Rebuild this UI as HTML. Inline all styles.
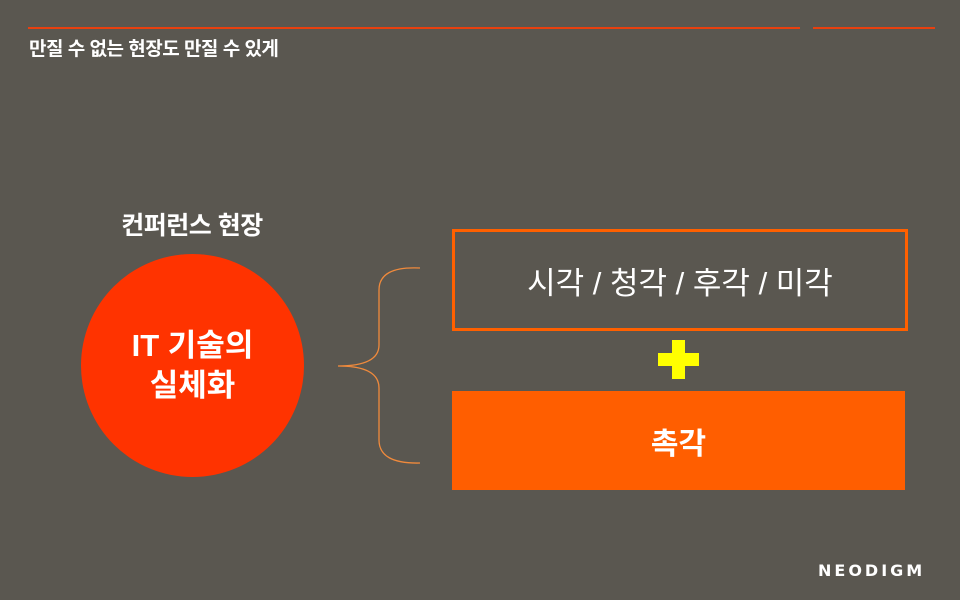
<!DOCTYPE html>
<html><head><meta charset="utf-8"><style>
body{margin:0;width:960px;height:600px;background:#5a5750;position:relative;overflow:hidden;font-family:"Liberation Sans","Noto Sans CJK KR",sans-serif;color:#fff}
.a{position:absolute}
</style></head><body>
<div class="a" style="left:28px;top:27px;width:772px;height:2px;background:#e8400f"></div>
<div class="a" style="left:813px;top:27px;width:122px;height:2px;background:#e8400f"></div>
<div class="a" style="left:29px;top:34px;font-size:19px;font-weight:bold;letter-spacing:-0.5px">만질 수 없는 현장도 만질 수 있게</div>
<div class="a" style="left:72px;top:206px;width:240px;text-align:center;font-size:25px;font-weight:bold;letter-spacing:-0.5px">컨퍼런스 현장</div>
<div class="a" style="left:81px;top:254px;width:223px;height:223px;border-radius:50%;background:#ff3300;display:flex;align-items:center;justify-content:center;text-align:center;font-size:31px;font-weight:bold;line-height:40px">IT 기술의<br>실체화</div>
<svg class="a" style="left:0;top:0" width="960" height="600"><path d="M420 268 Q379 266 379 290 L379 345 Q379 366 338 366 Q379 366 379 388 L379 440 Q379 464 420 463" fill="none" stroke="#f08a3c" stroke-width="1.3"/>
<rect x="672" y="340" width="13" height="39" fill="#ffff00"/><rect x="658" y="353" width="41" height="13" fill="#ffff00"/></svg>
<div class="a" style="left:452px;top:229px;width:450px;height:96px;border:3px solid #ff6000;display:flex;align-items:center;justify-content:center;font-size:31px;">시각 / 청각 / 후각 / 미각</div>
<div class="a" style="left:452px;top:391px;width:453px;height:99px;background:#ff5e00;display:flex;align-items:center;justify-content:center;font-size:30px;font-weight:bold;">촉각</div>
<div class="a" style="left:818px;top:561px;font-size:16px;font-weight:bold;letter-spacing:3px;font-family:'DejaVu Sans',sans-serif">NEODIGM</div>
</body></html>
